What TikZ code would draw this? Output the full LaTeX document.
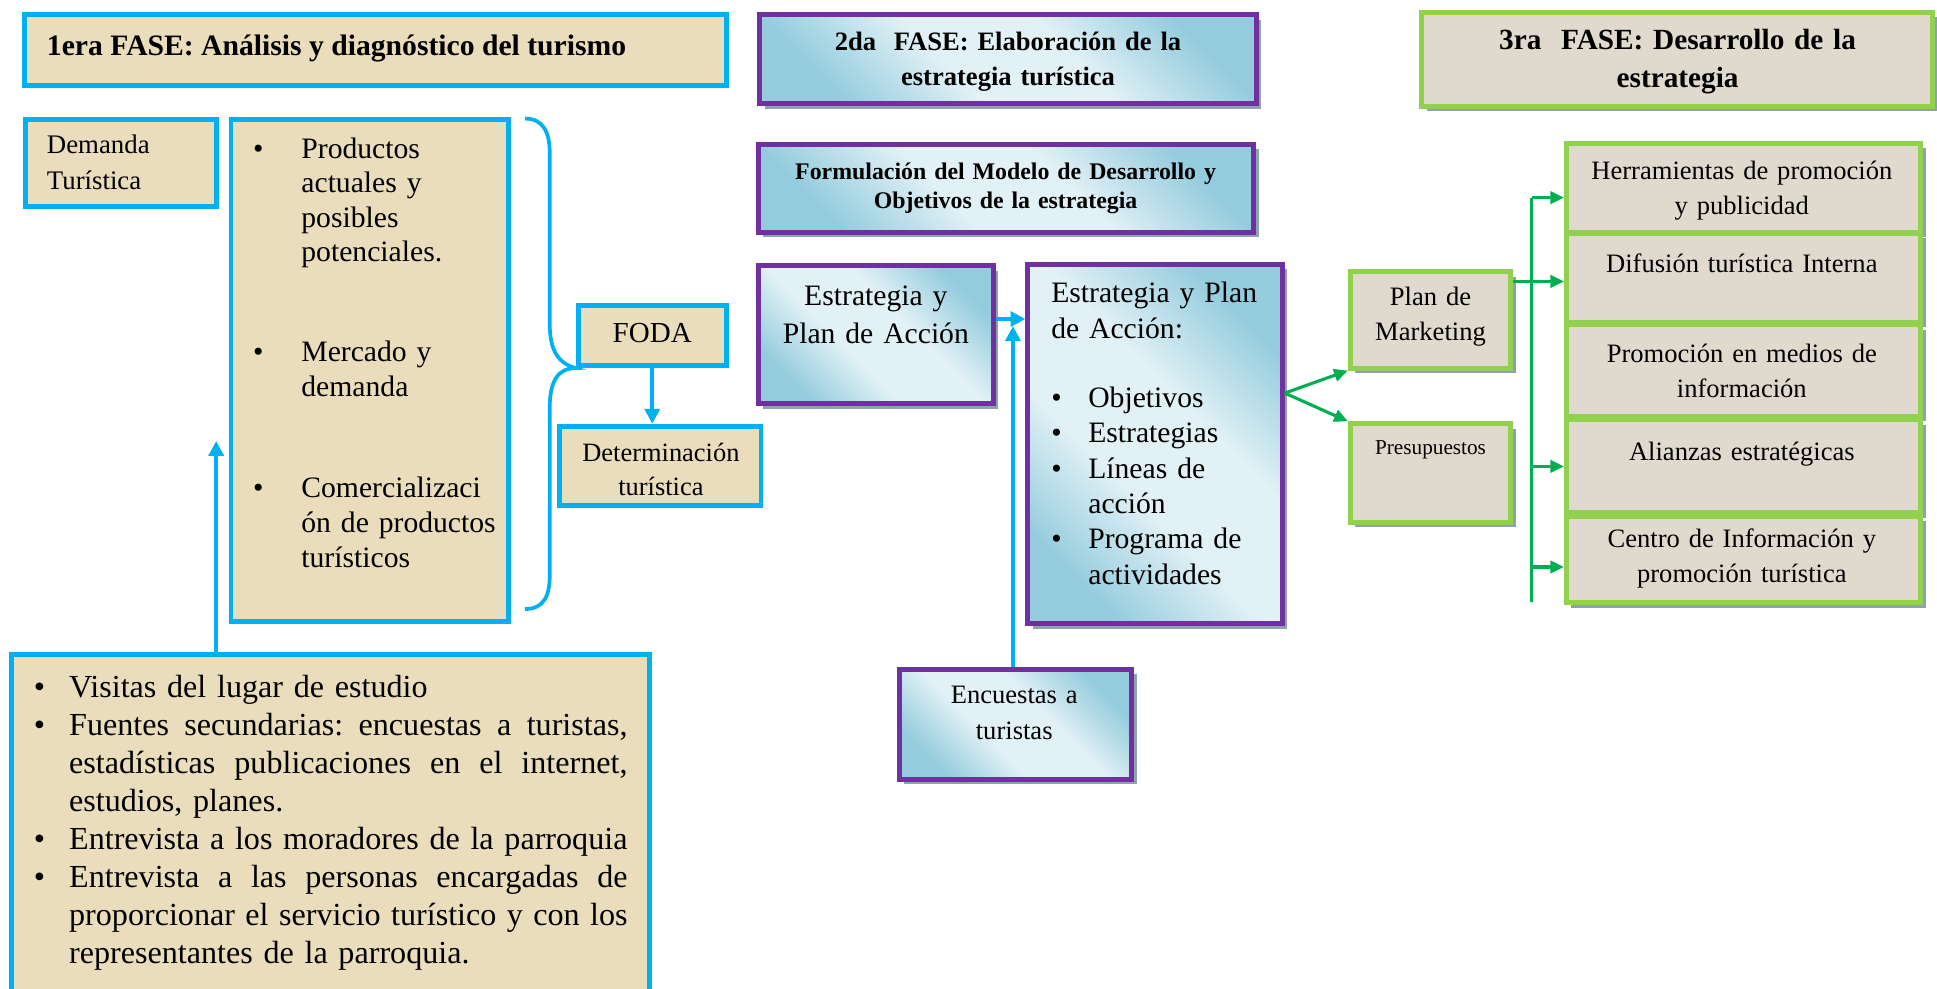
\documentclass[tikz,border=0pt]{standalone}
\usepackage{fontspec}
\setmainfont{Liberation Serif}
\usetikzlibrary{arrows.meta,shadows,calc}
\definecolor{cy}{RGB}{0,176,240}
\definecolor{pu}{RGB}{112,48,160}
\definecolor{gb}{RGB}{146,208,80}
\definecolor{ga}{RGB}{0,176,80}
\definecolor{beige}{RGB}{234,221,188}
\definecolor{gbeige}{RGB}{224,217,205}
\definecolor{blA}{RGB}{226,241,246}
\definecolor{blB}{RGB}{148,204,221}
\definecolor{shd}{RGB}{140,162,172}
\pgfdeclareverticalshading{bband}{100bp}{color(0bp)=(blB); color(25bp)=(blB); color(42bp)=(blA); color(58bp)=(blA); color(75bp)=(blB); color(100bp)=(blB)}
\newcommand{\setfs}[2]{\fontsize{#1}{#2}\selectfont}
\newcommand{\bul}[1]{\makebox[#1][l]{\textbullet}}
\newcommand{\ind}[1]{\hspace*{#1}}
\newcommand{\js}{\hskip 0.25em plus 1fil\relax}
\newcommand{\jline}[1]{\hbox to 452pt{#1}}
\tikzset{
  box/.style={draw, line width=4pt, inner sep=0pt, outer sep=2pt, anchor=north west},
  cbox/.style={box, draw=cy, fill=beige},
  pbox/.style={box, draw=pu, shade, shading=bband, shading angle=-45,
    drop shadow={shadow xshift=4pt, shadow yshift=-4pt, fill=shd, opacity=1}},
  gbox/.style={box, draw=gb, fill=gbeige,
    drop shadow={shadow xshift=4pt, shadow yshift=-4pt, fill=shd, opacity=1}},
  txt/.style={inner sep=0pt, outer sep=0pt, text=black},
  ctxt/.style={txt, anchor=base, align=center},
  ltxt/.style={txt, anchor=base west, align=left},
  cline/.style={draw=cy, line width=3pt},
  carrow/.style={cline, -{Triangle[length=12pt,width=12pt]}},
  gline/.style={draw=ga, line width=2.5pt},
  garrow/.style={gline, -{Triangle[length=11pt,width=10pt]}}
}
\begin{document}
\begin{tikzpicture}[x=1pt,y=-1pt]
\useasboundingbox (0,0) rectangle (1568,800);
\fill[white] (0,0) rectangle (1568,800);
\clip (0,0) rectangle (1568,800);

% ---------- Phase 1 (cyan) ----------
\node[cbox, minimum width=568pt, minimum height=57pt] (t1) at (18,10) {};
\node[ltxt, font=\setfs{24}{29}\bfseries] (t1x) at (38,45) {1era FASE: Análisis y diagnóstico del turismo};

\node[cbox, minimum width=154pt, minimum height=70pt] (dem) at (19,95) {};
\node[ltxt, text width=135pt, font=\setfs{21.7}{29}] (demx) at (38,124.5) {Demanda\\Turística};

\node[cbox, minimum width=225pt, minimum height=406pt] (prod) at (185,95) {};
\node[ltxt, text width=215pt, font=\setfs{24}{28}] (prodx) at (205,128)
 {\bul{39pt}Productos\\\ind{39pt}actuales y\\\ind{39pt}posibles\\\ind{39pt}potenciales.\\[53pt]%
  \bul{39pt}Mercado y\\\ind{39pt}demanda\\[54pt]%
  \bul{39pt}Comercializaci\\\ind{39pt}ón de productos\\\ind{39pt}turísticos};

\node[cbox, minimum width=120pt, minimum height=49pt] (foda) at (466,245) {};
\node[ctxt, font=\setfs{23.5}{28}] (fodax) at (528,277) {FODA};

\node[cbox, minimum width=163pt, minimum height=64pt] (det) at (451,343) {};
\node[ctxt, text width=155pt, font=\setfs{21.4}{28}] (detx) at (535,373.5) {Determinación\\turística};

\node[cbox, minimum width=517pt, minimum height=300pt] (fuen) at (7,528) {};
\node[ltxt, text width=495pt, font=\setfs{26}{30.7}] (fuenx) at (27.5,565)
 {\bul{28.5pt}Visitas del lugar de estudio\\
  \bul{28.5pt}\jline{Fuentes\js secundarias:\js encuestas\js a\js turistas,}\\
  \ind{28.5pt}\jline{estadísticas\js publicaciones\js en\js el\js internet,}\\
  \ind{28.5pt}estudios, planes.\\
  \bul{28.5pt}Entrevista a los moradores de la parroquia\\
  \bul{28.5pt}\jline{Entrevista\js a\js las\js personas\js encargadas\js de}\\
  \ind{28.5pt}\jline{proporcionar\js el\js servicio\js turístico\js y\js con\js los}\\
  \ind{28.5pt}representantes de la parroquia.};

% brace
\draw[cline] (425,96) .. controls (439,96) and (445,106) .. (445,124) -- (445,262)
  .. controls (445,284) and (452,294) .. (foda.south west)
  .. controls (452,298) and (445,308) .. (445,330) -- (445,466)
  .. controls (445,484) and (439,493) .. (425,493);
\draw[carrow] (foda.south) -- (foda.south |- det.north);
\coordinate (upend) at (175,357);
\draw[carrow] (fuen.north -| upend) -- (upend);

% ---------- Phase 2 (purple) ----------
\node[pbox, minimum width=402pt, minimum height=72pt] (t2) at (613,10) {};
\node[ctxt, text width=390pt, font=\setfs{21.5}{29}\bfseries] (t2x) at (816,40.5) {2da\ \ FASE: Elaboración de la\\estrategia turística};

\node[pbox, minimum width=401pt, minimum height=71pt] (form) at (612,115) {};
\node[ctxt, text width=390pt, font=\setfs{19.3}{24}\bfseries] (formx) at (814,145) {Formulación del Modelo de Desarrollo y\\Objetivos de la estrategia};

\node[pbox, minimum width=190pt, minimum height=112pt] (est1) at (612,213) {};
\node[ctxt, text width=180pt, font=\setfs{24}{31}] (est1x) at (709,247) {Estrategia y\\Plan de Acción};

\node[pbox, minimum width=206pt, minimum height=291pt] (est2) at (830,212) {};
\node[ltxt, text width=190pt, font=\setfs{24}{29}] (est2h) at (851,245) {Estrategia y Plan\\de Acción:};
\node[ltxt, text width=190pt, font=\setfs{24}{28.6}] (est2l) at (851,330)
 {\bul{30pt}Objetivos\\\bul{30pt}Estrategias\\\bul{30pt}Líneas de\\\ind{30pt}acción\\\bul{30pt}Programa de\\\ind{30pt}actividades};

\node[pbox, minimum width=188pt, minimum height=89pt] (enc) at (726,540) {};
\node[ctxt, text width=180pt, font=\setfs{21.5}{29}] (encx) at (821,569.5) {Encuestas a\\turistas};

\draw[carrow] ($(est1.north east)!0.39!(est1.south east)$) coordinate (a1) -- (a1 -| est2.west);
\coordinate (encend) at (820,264);
\draw[carrow] (enc.north -| encend) -- (encend);

% ---------- Phase 3 (green) ----------
\node[gbox, minimum width=413pt, minimum height=76pt] (t3) at (1149,8) {};
\node[ctxt, text width=400pt, font=\setfs{23.7}{31}\bfseries] (t3x) at (1358,40) {3ra\ \ FASE: Desarrollo de la\\estrategia};

\node[gbox, minimum width=130pt, minimum height=78pt] (pm) at (1091,218) {};
\node[ctxt, text width=125pt, font=\setfs{21.5}{28}] (pmx) at (1158,247.5) {Plan de\\Marketing};

\node[gbox, minimum width=130pt, minimum height=80pt] (pres) at (1091,341) {};
\node[ctxt, text width=125pt, font=\setfs{17.2}{21}] (presx) at (1158,368) {Presupuestos};

\node[gbox, minimum width=287pt, minimum height=72pt] (herr) at (1266,114) {};
\node[gbox, minimum width=287pt, minimum height=72pt] (difu) at (1266,187) {};
\node[gbox, minimum width=287pt, minimum height=74pt] (prom) at (1266,261) {};
\node[gbox, minimum width=287pt, minimum height=75pt] (ali) at (1266,338) {};
\node[gbox, minimum width=287pt, minimum height=70pt] (cen) at (1266,416) {};
\node[ctxt, text width=280pt, font=\setfs{21.5}{28}] (herrx) at (1410,145.5) {Herramientas de promoción\\y publicidad};
\node[ctxt, text width=280pt, font=\setfs{21.5}{28}] (difux) at (1410,220.5) {Difusión turística Interna};
\node[ctxt, text width=280pt, font=\setfs{21.5}{28}] (promx) at (1410,293.5) {Promoción en medios de\\información};
\node[ctxt, text width=280pt, font=\setfs{21.5}{28}] (alix) at (1410,372.5) {Alianzas estratégicas};
\node[ctxt, text width=280pt, font=\setfs{21.5}{28}] (cenx) at (1410,443.5) {Centro de Información y\\promoción turística};

\coordinate (gs) at ($(est2.north east)!0.36!(est2.south east)$);
\draw[garrow] (gs) -- (pm.south west);
\draw[garrow] (gs) -- (pres.north west);
\draw[garrow] ($(pm.north east)!0.12!(pm.south east)$) coordinate (pmo) -- (pmo -| difu.west);
\coordinate (bt) at (1240,160);
\coordinate (bb) at (1240,487);
\draw[gline] (bt) -- (bb);
\draw[garrow] (bt) -- (bt -| herr.west);
\draw[garrow] (bt |- ali.west) -- (ali.west);
\draw[garrow] ($(bt |- cen.west)+(0,6)$) coordinate (cn) -- (cn -| cen.west);
\end{tikzpicture}
\end{document}
